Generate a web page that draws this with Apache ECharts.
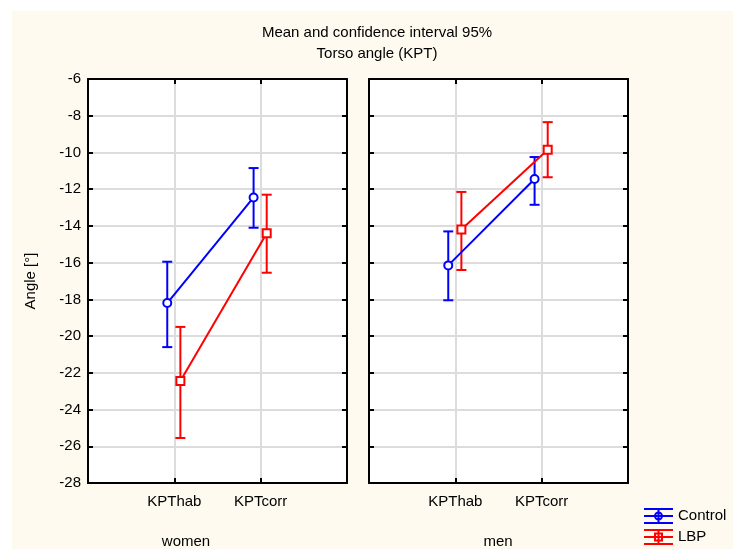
<!DOCTYPE html>
<html>
<head>
<meta charset="utf-8">
<script src="https://cdn.jsdelivr.net/npm/echarts@6/dist/echarts.min.js"></script>
<style>
html, body { margin: 0; padding: 0; background: #fff; }
#main { width: 733px; height: 549px; }
</style>
</head>
<body>
<div id="main"></div>
<script>
// data (women, men)
var categories = ['KPThab', 'KPTcorr'];
var groups = ['women', 'men'];
var seriesNames = ['Control', 'LBP'];

var controlMean = [[-18.2, -12.45], [-16.15, -11.45]];
var controlLow = [[-20.6, -14.1], [-18.05, -12.85]];
var controlHigh = [[-15.95, -10.85], [-14.3, -10.25]];

var lbpMean = [[-22.45, -14.4], [-14.2, -9.85]];
var lbpLow = [[-25.55, -16.55], [-16.4, -11.35]];
var lbpHigh = [[-19.5, -12.3], [-12.15, -8.35]];

var yMin = -28, yMax = -6, yStep = 2;

var font = "'Liberation Sans', Arial, sans-serif";
var colors = ['#0000ff', '#ff0000'];
var symbols = ['emptyCircle', 'emptyRect'];
var offsets = [-0.082, 0.07];
var means = [controlMean, lbpMean];
var lows = [controlLow, lbpLow];
var highs = [controlHigh, lbpHigh];

function renderBar(params, api) {
    var x = api.value(0);
    var top = api.coord([x, api.value(2)]);
    var bot = api.coord([x, api.value(1)]);
    var w = 5;
    var style = {stroke: api.visual('color'), lineWidth: 2};
    return {
        type: 'group',
        children: [
            {type: 'line', shape: {x1: top[0], y1: top[1], x2: bot[0], y2: bot[1]}, style: style},
            {type: 'line', shape: {x1: top[0] - w, y1: top[1], x2: top[0] + w, y2: top[1]}, style: style},
            {type: 'line', shape: {x1: bot[0] - w, y1: bot[1], x2: bot[0] + w, y2: bot[1]}, style: style}
        ]
    };
}

var grids = [], xAxes = [], yAxes = [], series = [];
var gridLeft = [88, 369];
var frame = {onZero: false, lineStyle: {color: '#000', width: 2}};
var tick = {show: true, inside: true, length: 5, lineStyle: {color: '#000', width: 2}};
var split = {show: true, showMinLine: false, showMaxLine: false, lineStyle: {color: '#dcdcdc', width: 2}};

groups.forEach(function (g, gi) {
    grids.push({
        left: gridLeft[gi], top: 79, width: 259, height: 404,
        show: true, backgroundColor: '#fff', borderWidth: 0,
        outerBoundsMode: 'none'
    });
    // bottom + top x axes
    xAxes.push({
        type: 'value', gridIndex: gi, position: 'bottom', min: 0, max: 3, interval: 1,
        axisLine: frame, axisTick: tick,
        axisLabel: {
            color: '#000', fontSize: 15, fontFamily: font, margin: 11,
            showMinLabel: false, showMaxLabel: false,
            formatter: function (v) { return categories[v - 1] || ''; }
        },
        splitLine: split
    });
    xAxes.push({
        type: 'value', gridIndex: gi, position: 'top', min: 0, max: 3, interval: 1,
        axisLine: frame, axisTick: tick,
        axisLabel: {show: false},
        splitLine: {show: false}
    });
    // left + right y axes
    yAxes.push({
        type: 'value', gridIndex: gi, position: 'left', min: yMin, max: yMax, interval: yStep,
        name: gi === 0 ? 'Angle [°]' : '',
        nameLocation: 'middle', nameGap: 50,
        nameTextStyle: {color: '#000', fontSize: 15, fontFamily: font},
        axisLine: frame, axisTick: tick,
        axisLabel: {show: gi === 0, color: '#000', fontSize: 15, fontFamily: font, margin: 7},
        splitLine: split
    });
    yAxes.push({
        type: 'value', gridIndex: gi, position: 'right', min: yMin, max: yMax, interval: yStep,
        axisLine: frame, axisTick: tick,
        axisLabel: {show: false},
        splitLine: {show: false}
    });

    seriesNames.forEach(function (name, si) {
        var pts = categories.map(function (c, ci) {
            return [ci + 1 + offsets[si], means[si][gi][ci]];
        });
        var bars = categories.map(function (c, ci) {
            return [ci + 1 + offsets[si], lows[si][gi][ci], highs[si][gi][ci]];
        });
        series.push({
            name: name, type: 'custom', xAxisIndex: gi * 2, yAxisIndex: gi * 2,
            renderItem: renderBar, encode: {x: 0, y: [1, 2]},
            itemStyle: {color: colors[si]}, data: bars, z: 2, silent: true
        });
        series.push({
            name: name, type: 'line', xAxisIndex: gi * 2, yAxisIndex: gi * 2,
            data: pts, symbol: symbols[si], symbolSize: 8,
            itemStyle: {color: colors[si], borderWidth: 1.6},
            lineStyle: {color: colors[si], width: 2},
            z: 3, silent: true
        });
    });
});

// legend icon: error-bar glyph with a marker in the middle
var iconBars = 'M0 0 L29 0 L29 2 L0 2 Z M0 7 L29 7 L29 9 L0 9 Z M0 14 L29 14 L29 16 L0 16 Z M13.5 0 L15.5 0 L15.5 16 L13.5 16 Z ';
var iconCircle = iconBars + 'M10 8 A4.5 4.5 0 1 1 19 8 A4.5 4.5 0 1 1 10 8 Z M12 8 A2.5 2.5 0 1 0 17 8 A2.5 2.5 0 1 0 12 8 Z';
var iconSquare = iconBars + 'M10 3.5 L19 3.5 L19 12.5 L10 12.5 Z M12 5.5 L12 10.5 L17 10.5 L17 5.5 Z';

var option = {
    backgroundColor: '#fff',
    animation: false,
    graphic: [
        {type: 'rect', z: -100, shape: {x: 12, y: 11, width: 721, height: 538}, style: {fill: '#fffaf0'}},
        {type: 'text', x: 377, y: 33, style: {text: 'Mean and confidence interval 95%', align: 'center', verticalAlign: 'middle', fill: '#000', font: '15px ' + font}},
        {type: 'text', x: 377, y: 54, style: {text: 'Torso angle (KPT)', align: 'center', verticalAlign: 'middle', fill: '#000', font: '15px ' + font}},
        {type: 'text', x: 186, y: 542, style: {text: groups[0], align: 'center', verticalAlign: 'middle', fill: '#000', font: '15px ' + font}},
        {type: 'text', x: 498, y: 542, style: {text: groups[1], align: 'center', verticalAlign: 'middle', fill: '#000', font: '15px ' + font}}
    ],
    legend: {
        orient: 'vertical', left: 644, top: 508, padding: 0,
        itemWidth: 29, itemHeight: 16, itemGap: 5,
        itemStyle: {borderWidth: 0},
        textStyle: {color: '#000', fontSize: 15, fontFamily: font},
        data: [
            {name: 'Control', icon: 'path://' + iconCircle},
            {name: 'LBP', icon: 'path://' + iconSquare}
        ],
        selectedMode: false
    },
    grid: grids,
    xAxis: xAxes,
    yAxis: yAxes,
    series: series
};

var chart = echarts.init(document.getElementById('main'));
chart.setOption(option);
</script>
</body>
</html>
